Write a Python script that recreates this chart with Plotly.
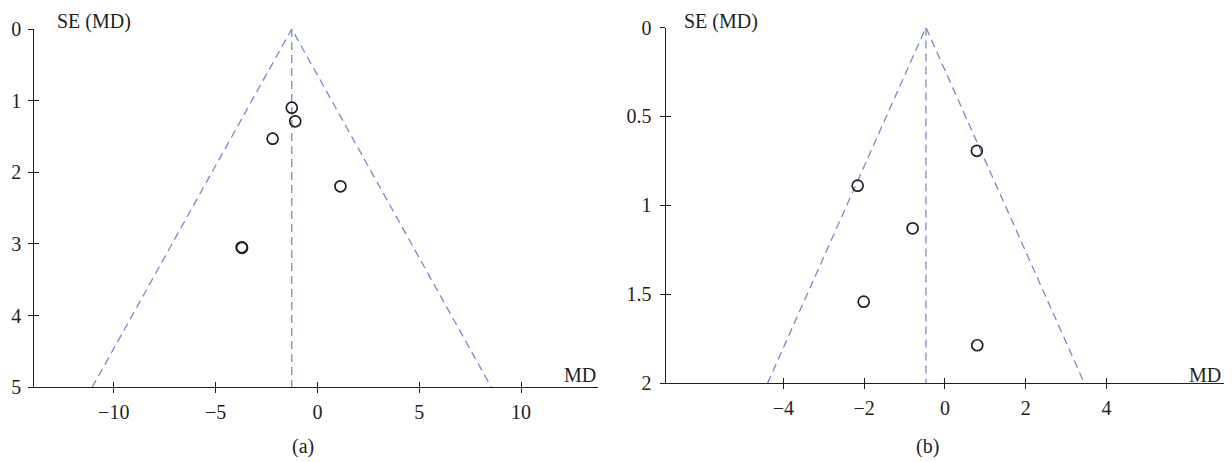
import plotly.graph_objects as go

# ---- data ----
a_md = [-1.26, -1.09, -2.20, 1.13, -3.72, -3.70]
a_se = [1.098, 1.288, 1.531, 2.195, 3.046, 3.053]
a_pooled = -1.26
a_se_max = 5
a_xticks = [-10, -5, 0, 5, 10]
a_yticks = [0, 1, 2, 3, 4, 5]

b_md = [0.79, -2.16, -0.80, -2.01, 0.80]
b_se = [0.693, 0.889, 1.129, 1.541, 1.786]
b_pooled = -0.47
b_se_max = 2
b_xticks = [-4, -2, 0, 2, 4]
b_yticks = [0, 0.5, 1, 1.5, 2]
b_yticktext = ["0", "0.5", "1", "1.5", "2"]

z = 1.96
OFF = 8                      # default page margin of the html body
W, H = 1232 - OFF, 462 - OFF
FONT = "Liberation Serif"
DASH = "#7d87cc"
INK = "#231f20"

def px_x(p):
    return (p - OFF) / W

def px_y(p):
    return 1 - (p - OFF) / H

fig = go.Figure()

def add_panel(md, se, pooled, se_max, xa, ya):
    lo = pooled - z * se_max
    hi = pooled + z * se_max
    fig.add_trace(go.Scatter(x=[lo, pooled, hi], y=[se_max, 0, se_max], mode="lines",
                             line=dict(color=DASH, width=1.3, dash="8px,5px"),
                             xaxis=xa, yaxis=ya, showlegend=False, hoverinfo="skip",
                             cliponaxis=False))
    fig.add_trace(go.Scatter(x=[pooled, pooled], y=[0, se_max], mode="lines",
                             line=dict(color=DASH, width=1.3, dash="8px,5px"),
                             xaxis=xa, yaxis=ya, showlegend=False, hoverinfo="skip",
                             cliponaxis=False))
    fig.add_trace(go.Scatter(x=md, y=se, mode="markers",
                             marker=dict(symbol="circle-open", size=11, color=INK,
                                         line=dict(color=INK, width=1.7)),
                             xaxis=xa, yaxis=ya, showlegend=False))

add_panel(a_md, a_se, a_pooled, a_se_max, "x", "y")
add_panel(b_md, b_se, b_pooled, b_se_max, "x2", "y2")

a_ydom = [px_y(387.3), px_y(29)]
b_ydom = [px_y(383.3), px_y(27.5)]
a_dom = [px_x(34.3), px_x(597.5)]
b_dom = [px_x(665.7), px_x(1227)]
a_xr = [-13.9, 13.75]
b_xr = [-6.91, 6.98]

tickfont = dict(family=FONT, size=20, color=INK)
base = dict(showgrid=False, zeroline=False, showline=True, linecolor=INK,
            linewidth=1.3, ticks="outside", ticklen=5, tickwidth=1.3,
            tickcolor=INK, tickfont=tickfont, automargin=False)
overlay = dict(showgrid=False, zeroline=False, showline=False, ticks="inside",
               ticklen=5, tickwidth=1.3, tickcolor=INK, showticklabels=False,
               automargin=False)

fig.update_layout(
    template="none",
    width=W, height=H,
    margin=dict(l=0, r=0, t=0, b=0, pad=0),
    paper_bgcolor="white", plot_bgcolor="rgba(0,0,0,0)",
    xaxis=dict(domain=a_dom, range=a_xr, tickmode="array", tickvals=a_xticks,
               anchor="y", ticklabelstandoff=2, **base),
    yaxis=dict(domain=a_ydom, range=[a_se_max, 0], tickmode="array", tickvals=a_yticks,
               anchor="x", ticklabelstandoff=3, **base),
    xaxis2=dict(domain=b_dom, range=b_xr, tickmode="array", tickvals=b_xticks,
                anchor="y2", ticklabelstandoff=2, **base),
    yaxis2=dict(domain=b_ydom, range=[b_se_max, 0], tickmode="array", tickvals=b_yticks,
                ticktext=b_yticktext, anchor="x2", ticklabelstandoff=4, **base),
    xaxis3=dict(overlaying="x", matches="x", range=a_xr, tickmode="array",
                tickvals=a_xticks, anchor="y", **overlay),
    yaxis3=dict(overlaying="y", matches="y", range=[a_se_max, 0], tickmode="array",
                tickvals=a_yticks, anchor="x", **overlay),
    xaxis4=dict(overlaying="x2", matches="x2", range=b_xr, tickmode="array",
                tickvals=b_xticks, anchor="y2", **overlay),
    yaxis4=dict(overlaying="y2", matches="y2", range=[b_se_max, 0], tickmode="array",
                tickvals=b_yticks, anchor="x2", **overlay),
)
# invisible traces so the overlay tick axes are drawn
fig.add_trace(go.Scatter(x=[0], y=[1], mode="markers", marker=dict(opacity=0),
                         xaxis="x3", yaxis="y3", showlegend=False, hoverinfo="skip"))
fig.add_trace(go.Scatter(x=[0], y=[1], mode="markers", marker=dict(opacity=0),
                         xaxis="x4", yaxis="y4", showlegend=False, hoverinfo="skip"))

lab = dict(family=FONT, size=20, color=INK)
annots = [
    dict(text="SE (MD)", x=px_x(55), y=px_y(21), xanchor="left", yanchor="middle"),
    dict(text="MD", x=px_x(597.5), y=px_y(375), xanchor="right", yanchor="middle"),
    dict(text="(a)", x=px_x(302.5), y=px_y(446), xanchor="center", yanchor="middle"),
    dict(text="SE (MD)", x=px_x(682), y=px_y(21), xanchor="left", yanchor="middle"),
    dict(text="MD", x=px_x(1223), y=px_y(374.5), xanchor="right", yanchor="middle"),
    dict(text="(b)", x=px_x(927), y=px_y(446), xanchor="center", yanchor="middle"),
]
for a in annots:
    fig.add_annotation(xref="paper", yref="paper", showarrow=False, font=lab, **a)

fig.write_html("out.html")
